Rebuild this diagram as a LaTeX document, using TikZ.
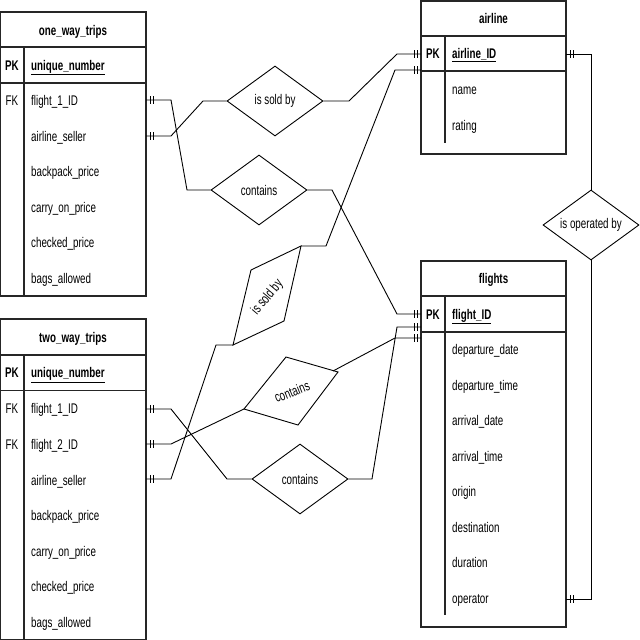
\documentclass[tikz,border=0pt]{standalone}
\usepackage{fontspec}
\setmainfont{Liberation Sans}[FakeStretch=0.7]
\usetikzlibrary{shapes.geometric}
\newcommand\fsz{\fontsize{14}{16}\selectfont}
\newcommand\mone[2]{\draw[conn] ([xshift=#2*4pt]#1) ++(0,-4) -- ++(0,8) ([xshift=#2*7pt]#1) ++(0,-4) -- ++(0,8);}
\begin{document}
\begin{tikzpicture}[x=1pt,y=-1pt,
 tbl/.style={draw=black!85, line width=1.1pt},
 conn/.style={draw=black, line width=0.9pt},
 txt/.style={inner sep=0pt, font=\fsz, anchor=base west, yshift=-5pt},
 key/.style={inner sep=0pt, font=\fsz, anchor=base, yshift=-5pt},
 hdr/.style={inner sep=0pt, font=\fsz\bfseries, anchor=base, yshift=-5pt},
 rel/.style={diamond, draw, line width=0.9pt, aspect=1.37, minimum width=96pt, minimum height=70pt, inner sep=0pt, font=\fsz},
 pgram/.style={draw, line width=0.9pt}]
\useasboundingbox (0,0) rectangle (640,640);

% ---------- one_way_trips ----------
\draw[tbl] (0.6,12) rectangle (146,296);
\draw[tbl] (0.6,47) -- (146,47) (0.6,83) -- (146,83) (24,47) -- (24,296);
\node[hdr] (ow-h) at (73,30) {one\_way\_trips};
\node[key,font=\fsz\bfseries] (ow-pk) at (12,65) {PK};
\node[txt,font=\fsz\bfseries] (ow-un) at (31,65) {\underline{unique\_number}};
\node[key] (ow-fk) at (12,100.8) {FK};
\node[txt] (ow-a1) at (31,100.8) {flight\_1\_ID};
\node[txt] (ow-a2) at (31,136.3) {airline\_seller};
\node[txt] (ow-a3) at (31,171.8) {backpack\_price};
\node[txt] (ow-a4) at (31,207.3) {carry\_on\_price};
\node[txt] (ow-a5) at (31,242.8) {checked\_price};
\node[txt] (ow-a6) at (31,278.3) {bags\_allowed};
\coordinate (ow-f1) at (146,100);
\coordinate (ow-as) at (146,136);

% ---------- two_way_trips ----------
\draw[tbl] (0.6,319) rectangle (146,639.3);
\draw[tbl] (0.6,355) -- (146,355) (0.6,390.5) -- (146,390.5) (24,355) -- (24,639.3);
\node[hdr] (tw-h) at (73,337) {two\_way\_trips};
\node[key,font=\fsz\bfseries] (tw-pk) at (12,372.5) {PK};
\node[txt,font=\fsz\bfseries] (tw-un) at (31,372.5) {\underline{unique\_number}};
\node[key] (tw-fk1) at (12,408.8) {FK};
\node[key] (tw-fk2) at (12,444.4) {FK};
\node[txt] (tw-a1) at (31,408.8) {flight\_1\_ID};
\node[txt] (tw-a2) at (31,444.4) {flight\_2\_ID};
\node[txt] (tw-a3) at (31,480) {airline\_seller};
\node[txt] (tw-a4) at (31,515.6) {backpack\_price};
\node[txt] (tw-a5) at (31,551.2) {carry\_on\_price};
\node[txt] (tw-a6) at (31,586.8) {checked\_price};
\node[txt] (tw-a7) at (31,622.4) {bags\_allowed};
\coordinate (tw-f1) at (146,409);
\coordinate (tw-f2) at (146,444);
\coordinate (tw-as) at (146,479);

% ---------- airline ----------
\draw[tbl] (421,1) rectangle (566,154);
\draw[tbl] (421,36) -- (566,36) (421,71) -- (566,71) (445,36) -- (445,143);
\node[hdr] (al-h) at (493.5,18.5) {airline};
\node[key,font=\fsz\bfseries] (al-pk) at (433,53.5) {PK};
\node[txt,font=\fsz\bfseries] (al-id) at (452,53.5) {\underline{airline\_ID}};
\node[txt] (al-a1) at (452,89) {name};
\node[txt] (al-a2) at (452,125) {rating};
\coordinate (al-l1) at (421,54);
\coordinate (al-l2) at (421,70);
\coordinate (al-r) at (566,54);

% ---------- flights ----------
\draw[tbl] (421,261) rectangle (566,627);
\draw[tbl] (421,296) -- (566,296) (421,332) -- (566,332) (445,296) -- (445,615);
\node[hdr] (fl-h) at (493.5,278.5) {flights};
\node[key,font=\fsz\bfseries] (fl-pk) at (433,314) {PK};
\node[txt,font=\fsz\bfseries] (fl-id) at (452,314) {\underline{flight\_ID}};
\node[txt] (fl-a1) at (452,349.8) {departure\_date};
\node[txt] (fl-a2) at (452,385.3) {departure\_time};
\node[txt] (fl-a3) at (452,420.8) {arrival\_date};
\node[txt] (fl-a4) at (452,456.3) {arrival\_time};
\node[txt] (fl-a5) at (452,491.8) {origin};
\node[txt] (fl-a6) at (452,527.3) {destination};
\node[txt] (fl-a7) at (452,562.8) {duration};
\node[txt] (fl-a8) at (452,598.3) {operator};
\coordinate (fl-l1) at (421,314);
\coordinate (fl-l2) at (421,327);
\coordinate (fl-l3) at (421,338);
\coordinate (fl-op) at (566,599);

% ---------- relationships ----------
\node[rel] (sold1) at (275,101) {is sold by};
\node[rel] (cont1) at (259,190) {contains};
\node[rel] (oper) at (591,225) {is operated by};
\node[rel] (cont3) at (300,479) {contains};

\coordinate (s2-tr) at (301,246);
\coordinate (s2-tl) at (251,270);
\coordinate (s2-bl) at (233,345);
\coordinate (s2-br) at (284,321);
\draw[pgram] (s2-tr) -- (s2-tl) -- (s2-bl) -- (s2-br) -- cycle;
\node[inner sep=0pt, font=\fsz, rotate=50] (sold2) at (267.5,297.5) {is sold by};

\coordinate (c2-t) at (286,357);
\coordinate (c2-r) at (338,372);
\coordinate (c2-b) at (298,425);
\coordinate (c2-l) at (244,409);
\coordinate (c2-x) at (333,371);
\draw[pgram] (c2-t) -- (c2-r) -- (c2-b) -- (c2-l) -- cycle;
\node[inner sep=0pt, font=\fsz, rotate=22] (cont2) at (292,391.5) {contains};

% ---------- connectors ----------
\draw[conn] (ow-f1) -- (171,100) -- (187,190) -- (cont1.west);
\draw[conn] (ow-as) -- (171,136) -- (203,101) -- (sold1.west);
\draw[conn] (sold1.east) -- (349,101) -- (397,54) -- (al-l1);
\draw[conn] (cont1.east) -- (332,190) -- (397,314) -- (fl-l1);
\draw[conn] (s2-tr) -- (326,246) -- (395,70) -- (al-l2);
\draw[conn] (s2-bl) -- (216,345) -- (171,479) -- (tw-as);
\draw[conn] (tw-f2) -- (171,444) -- (c2-l);
\draw[conn] (c2-x) -- (395,338) -- (fl-l3);
\draw[conn] (tw-f1) -- (171,409) -- (227,479) -- (cont3.west);
\draw[conn] (cont3.east) -- (372,479) -- (397,327) -- (fl-l2);
\draw[conn] (al-r) -- (591,54) -- (oper.north);
\draw[conn] (oper.south) -- (591,599) -- (fl-op);

% ---------- mandatory-one marks ----------
\mone{ow-f1}{1}
\mone{ow-as}{1}
\mone{tw-f1}{1}
\mone{tw-f2}{1}
\mone{tw-as}{1}
\mone{al-l1}{-1}
\mone{al-l2}{-1}
\mone{fl-l1}{-1}
\mone{fl-l2}{-1}
\mone{fl-l3}{-1}
\mone{al-r}{1}
\mone{fl-op}{1}
\end{tikzpicture}
\end{document}
